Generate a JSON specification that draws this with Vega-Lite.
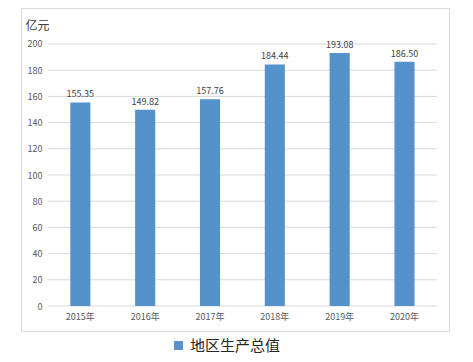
{
  "$schema": "https://vega.github.io/schema/vega-lite/v6.json",
  "width": 428,
  "height": 323,
  "autosize": "none",
  "padding": {"left": 21, "top": 8, "right": 24, "bottom": 31},
  "config": {
    "view": {"stroke": "#d9d9d9", "strokeWidth": 1},
    "font": "Noto Sans CJK SC"
  },
  "datasets": {
    "gdp": [
      {"year": "2015年", "value": 155.35, "label": "155.35", "series": "地区生产总值"},
      {"year": "2016年", "value": 149.82, "label": "149.82", "series": "地区生产总值"},
      {"year": "2017年", "value": 157.76, "label": "157.76", "series": "地区生产总值"},
      {"year": "2018年", "value": 184.44, "label": "184.44", "series": "地区生产总值"},
      {"year": "2019年", "value": 193.08, "label": "193.08", "series": "地区生产总值"},
      {"year": "2020年", "value": 186.50, "label": "186.50", "series": "地区生产总值"}
    ],
    "grid": [
      {"v": 0}, {"v": 20}, {"v": 40}, {"v": 60}, {"v": 80}, {"v": 100},
      {"v": 120}, {"v": 140}, {"v": 160}, {"v": 180}, {"v": 200}
    ]
  },
  "encoding": {
    "x": {
      "type": "nominal",
      "scale": {
        "type": "band", "paddingInner": 0, "paddingOuter": 0.301, "align": 0.69,
        "domain": ["2015年", "2016年", "2017年", "2018年", "2019年", "2020年"]
      },
      "axis": {
        "title": null, "orient": "bottom", "offset": -25, "domain": false, "ticks": false,
        "grid": false, "labelAngle": 0, "labelPadding": 6, "labelFontSize": 9,
        "labelColor": "#595959", "labelFont": "Noto Sans CJK SC"
      }
    },
    "y": {
      "type": "quantitative",
      "scale": {"domain": [-19.08, 227.48], "nice": false, "zero": false},
      "axis": {
        "values": [0, 20, 40, 60, 80, 100, 120, 140, 160, 180, 200],
        "grid": false, "domain": false, "ticks": false, "offset": -27,
        "labelPadding": 6, "labelFontSize": 9, "labelColor": "#595959",
        "title": "亿元", "titleAngle": 0, "titleX": -11, "titleY": 17,
        "titleAlign": "center", "titleBaseline": "middle",
        "titleFontSize": 12, "titleFontWeight": "normal", "titleColor": "#404040"
      }
    }
  },
  "layer": [
    {
      "data": {"name": "grid"},
      "mark": {"type": "rule", "color": "#d9d9d9", "strokeWidth": 1},
      "encoding": {
        "y": {"field": "v"},
        "x": {"datum": "2015年", "bandPosition": 0},
        "x2": {"datum": "2020年", "bandPosition": 1}
      }
    },
    {
      "data": {"name": "gdp"},
      "mark": {"type": "bar", "width": {"band": 0.31}},
      "encoding": {
        "x": {"field": "year"},
        "y": {"field": "value"},
        "y2": {"datum": 0},
        "color": {
          "field": "series", "type": "nominal",
          "scale": {"range": ["#5591cb"]},
          "legend": {
            "title": null, "orient": "none", "legendX": 150, "legendY": 330,
            "direction": "horizontal", "symbolType": "square",
            "symbolSize": 80, "labelFontSize": 15, "labelColor": "#262626",
            "labelFont": "Noto Sans CJK SC", "symbolStrokeWidth": 0
          }
        }
      }
    },
    {
      "data": {"name": "gdp"},
      "mark": {"type": "text", "dy": -8, "fontSize": 9, "color": "#404040", "font": "Noto Sans CJK SC"},
      "encoding": {
        "x": {"field": "year"},
        "y": {"field": "value"},
        "text": {"field": "label"}
      }
    }
  ]
}
